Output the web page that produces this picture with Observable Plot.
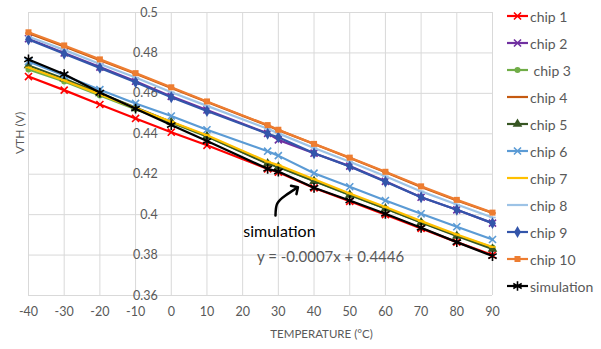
<!DOCTYPE html>
<html><head><meta charset="utf-8">
<script src="https://cdn.jsdelivr.net/npm/d3@7"></script>
<script src="https://cdn.jsdelivr.net/npm/@observablehq/plot@0.6"></script>
<style>
body{margin:0;background:#fff;font-family:Lato,sans-serif;}
#wrap{position:relative;width:601px;height:349px;overflow:hidden;}
#legend{position:absolute;left:505px;top:0;width:96px;height:349px;}
.item{position:absolute;left:0;height:20px;display:flex;align-items:center;white-space:pre;font-size:14px;color:#595959;}
.item svg{display:block;}
</style></head><body><div id="wrap"><div id="chart"></div><div id="legend"></div></div>
<script>
const temps = [-40,-30,-20,-10,0,10,27,30,40,50,60,70,80,90];
const chip1 = [0.4683,0.4616,0.4545,0.4476,0.4408,0.4343,0.4226,0.4210,0.4132,0.4066,0.4000,0.3932,0.3864,0.3800];
const chip2 = [0.4870,0.4800,0.4730,0.4660,0.4585,0.4518,0.4402,0.4370,0.4304,0.4240,0.4165,0.4086,0.4024,0.3958];
const chip3 = [0.4718,0.4659,0.4590,0.4522,0.4455,0.4387,0.4254,0.4237,0.4166,0.4097,0.4030,0.3962,0.3897,0.3838];
const chip4 = [0.4898,0.4832,0.4764,0.4697,0.4626,0.4557,0.4441,0.4418,0.4349,0.4280,0.4210,0.4137,0.4070,0.4008];
const chip5 = [0.4738,0.4672,0.4600,0.4530,0.4458,0.4388,0.4252,0.4236,0.4166,0.4098,0.4030,0.3961,0.3894,0.3830];
const chip6 = [0.4758,0.4688,0.4618,0.4550,0.4488,0.4420,0.4314,0.4292,0.4205,0.4138,0.4070,0.4004,0.3940,0.3877];
const chip7 = [0.4728,0.4664,0.4595,0.4527,0.4460,0.4393,0.4262,0.4245,0.4175,0.4105,0.4038,0.3968,0.3902,0.3840];
const chip8 = [0.4880,0.4815,0.4745,0.4678,0.4606,0.4538,0.4425,0.4402,0.4330,0.4262,0.4190,0.4115,0.4050,0.3986];
const chip9 = [0.4866,0.4796,0.4726,0.4655,0.4581,0.4513,0.4400,0.4383,0.4304,0.4238,0.4163,0.4086,0.4024,0.3958];
const chip10 = [0.4902,0.4837,0.4768,0.4700,0.4630,0.4560,0.4443,0.4420,0.4350,0.4282,0.4212,0.4140,0.4073,0.4010];
const simulation = [0.4768,0.4695,0.4604,0.4524,0.4443,0.4364,0.4227,0.4213,0.4133,0.4070,0.4004,0.3935,0.3864,0.3795];

const seriesNames = ["chip 1","chip 2"," chip 3","chip 4","chip 5","chip 6","chip 7","chip 8","chip 9","chip 10","simulation"];
const seriesValues = [chip1,chip2,chip3,chip4,chip5,chip6,chip7,chip8,chip9,chip10,simulation];

const xTicks = [-40,-30,-20,-10,0,10,20,30,40,50,60,70,80,90];
const xTickLabels = ["-40","-30","-20","-10","0","10","20","30","40","50","60","70","80","90"];
const yTicks = [0.36,0.38,0.40,0.42,0.44,0.46,0.48,0.50];
const yTickLabels = ["0.36","0.38","0.4","0.42","0.44","0.46","0.48","0.5"];
const xTitle = "TEMPERATURE (°C)";
const yTitle = "VTH (V)";
const annotationLabel = "simulation";
const trendlineLabel = "y = -0.0007x + 0.4446";
// annotation anchor points (data units)
const arrowPathT = [29.2, 29.7, 32.0, 34.9];
const arrowPathV = [0.3996, 0.4055, 0.4095, 0.4129];

// ---- styles ----
const colors = ["#FF0000","#7030A0","#70AD47","#C55A11","#375623","#5B9BD5","#FFC000","#9DC3E6","#3355AA","#ED7D31","#000000"];
const symbols = ["times","times","circle","dash","triangle","times","dash","dash","diamond","square","asterisk"];
const radii = {times:3.3, circle:3, dash:3, triangle:3.6, diamond:3.6, square:3.4, asterisk:4.6};
const strokeSymbols = new Set(["times","asterisk","dash"]);
const dashSymbol = {draw(ctx, size){const w = Math.sqrt(size)*0.6; ctx.moveTo(-w,0); ctx.lineTo(w,0);}};
const symType = s => s === "dash" ? dashSymbol : s;
const gray = "#595959";

const marks = [
  Plot.gridX(xTicks, {stroke:"#d9d9d9", strokeOpacity:1, strokeWidth:1}),
  Plot.gridY(yTicks, {stroke:"#d9d9d9", strokeOpacity:1, strokeWidth:1}),
  Plot.text(xTicks, {x:d=>d, frameAnchor:"bottom", dy:20, text:(d,i)=>xTickLabels[i], fill:gray, fontSize:12.5}),
  Plot.text(yTicks, {x:d=>0, y:d=>d, dx:-13.5, textAnchor:"end", text:(d,i)=>yTickLabels[i], fill:gray, fontSize:12.5}),
  Plot.text([yTitle], {frameAnchor:"left", dx:-8, rotate:-90, text:d=>d, fill:gray, fontSize:12}),
  Plot.text([xTitle], {frameAnchor:"bottom", dx:61, dy:42, text:d=>d, fill:gray, fontSize:11.5})
];

seriesValues.forEach((vals, i) => {
  const rows = temps.map((t, j) => ({t, v: vals[j]}));
  marks.push(Plot.line(rows, {x:"t", y:"v", stroke:colors[i], strokeWidth:2.2}));
  const s = symbols[i];
  const isStroke = strokeSymbols.has(s);
  marks.push(Plot.dot(rows, {x:"t", y:"v", symbol:()=>symType(s), r:radii[s],
    fill: isStroke ? "none" : colors[i], stroke: isStroke ? colors[i] : "none", strokeWidth: isStroke ? 1.6 : 0}));
});

const arrowRows = arrowPathT.map((t, j) => ({t, v: arrowPathV[j]}));
marks.push(Plot.line(arrowRows, {x:"t", y:"v", curve:"natural", stroke:"#000", strokeWidth:2.5, markerEnd:"arrow"}));
marks.push(Plot.text([annotationLabel], {x:()=>30.3, y:()=>0.3915, text:d=>d, fill:"#000", fontSize:16}));
marks.push(Plot.text([trendlineLabel], {x:()=>24.0, y:()=>0.3792, text:d=>d, textAnchor:"start", fill:gray, fontSize:15}));

const chart = Plot.plot({
  width:601, height:349,
  marginLeft:28, marginRight:109, marginTop:12, marginBottom:54,
  x:{domain:[-40,90], axis:null},
  y:{domain:[0.36,0.5], axis:null},
  symbol:{type:"identity"},
  style:{fontFamily:"Lato, sans-serif", background:"white"},
  marks
});
document.getElementById("chart").appendChild(chart);

// legend
const d3Sym = {times:d3.symbolTimes, circle:d3.symbolCircle, triangle:d3.symbolTriangle, diamond:d3.symbolDiamond, square:d3.symbolSquare, asterisk:d3.symbolAsterisk, dash:dashSymbol};
const legend = d3.select("#legend");
seriesNames.forEach((name, i) => {
  const item = legend.append("div").attr("class","item").style("top", (16 + 27*i - 10) + "px");
  const svg = item.append("svg").attr("width",24).attr("height",14);
  svg.append("line").attr("x1",2).attr("x2",23).attr("y1",7).attr("y2",7).attr("stroke",colors[i]).attr("stroke-width",2.2);
  const s = symbols[i];
  const isStroke = strokeSymbols.has(s);
  const r = radii[s];
  svg.append("path").attr("transform","translate(12.5,7)")
    .attr("d", d3.symbol(d3Sym[s], Math.PI*r*r)())
    .attr("fill", isStroke ? "none" : colors[i])
    .attr("stroke", isStroke ? colors[i] : "none")
    .attr("stroke-width", isStroke ? 1.6 : 0);
  item.append("span").text(name).style("margin-left","1px");
});
</script></body></html>
